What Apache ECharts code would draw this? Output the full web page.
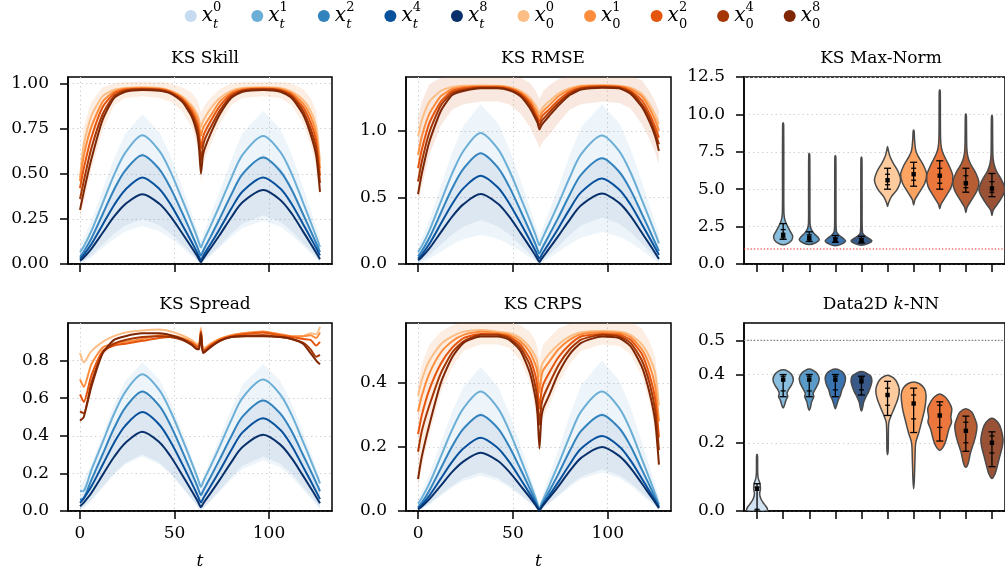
<!DOCTYPE html>
<html>
<head>
<meta charset="utf-8">
<script src="https://cdn.jsdelivr.net/npm/echarts@6/dist/echarts.min.js"></script>
<style>
  html, body { margin: 0; padding: 0; background: #fff; }
  #chart { width: 1005px; height: 573px; }
</style>
</head>
<body>
<div id="chart"></div>
<script>
// time steps sampled from the curves
const T = [0, 2, 6, 12, 18, 24, 33, 42, 48, 54, 59, 62, 63, 64, 65, 66, 69, 74, 80, 86, 97, 106, 112, 118, 122, 125, 127];

const NAMES = ['x_t^0', 'x_t^1', 'x_t^2', 'x_t^4', 'x_t^8', 'x_0^0', 'x_0^1', 'x_0^2', 'x_0^4', 'x_0^8'];
const COLORS = ['#c6dbef', '#6baed6', '#3182bd', '#08519c', '#08306b', '#fdbe85', '#fd8d3c', '#e6550d', '#a63603', '#7f2704'];

// ---- KS Skill
const skillXt1 = [.065,.097,.182,.338,.493,.617,.714, .627,.509,.359,.229,.148,.117,.092, .117,.141,.209,.327,.475,.605,.71, .621,.5,.342,.234,.151,.094];
const skillXt2 = [.04,.068,.141,.276,.412,.519,.603, .525,.419,.286,.169,.096,.068,.046, .068,.09,.149,.253,.383,.498,.59, .514,.412,.277,.185,.115,.066];
const skillXt4 = [.028,.051,.109,.218,.326,.412,.48, .416,.329,.219,.123,.063,.04,.022, .04,.059,.109,.196,.306,.402,.48, .418,.333,.222,.146,.088,.048];
const skillXt8 = [.018,.036,.084,.173,.262,.332,.387, .334,.263,.172,.093,.044,.025,.01, .026,.042,.086,.162,.258,.342,.41, .355,.28,.181,.114,.062,.027];
const skillX00 = [.48,.66,.82,.93,.965,.975,.98, .975,.96,.93,.88,.83,.80,.76, .79,.81,.86,.92,.96,.975,.98, .975,.955,.91,.85,.76,.57];
const skillX01 = [.46,.60,.76,.90,.955,.972,.976, .972,.957,.922,.865,.81,.77,.71, .75,.77,.82,.90,.95,.97,.976, .97,.947,.89,.82,.72,.53];
const skillX02 = [.42,.53,.70,.87,.945,.967,.972, .968,.953,.915,.85,.78,.73,.64, .70,.73,.79,.875,.94,.965,.972, .965,.938,.87,.785,.68,.49];
const skillX04 = [.36,.46,.64,.83,.932,.96,.968, .964,.948,.908,.835,.755,.69,.57, .65,.69,.755,.85,.93,.96,.968, .96,.93,.85,.75,.64,.45];
const skillX08 = [.30,.40,.58,.80,.92,.955,.965, .96,.945,.90,.82,.72,.64,.50, .60,.64,.72,.83,.92,.955,.965, .955,.92,.83,.72,.60,.40];
const skillBlueOutHi = [.11,.146,.24,.412,.585,.722,.83, .732,.599,.431,.284,.193,.158,.13, .159,.188,.267,.404,.576,.728,.85, .748,.609,.427,.303,.208,.142];
const skillBlueOutLo = [0,.011,.038,.088,.139,.179,.21, .181,.141,.09,.046,.019,.008,0, .01,.019,.046,.091,.149,.199,.24, .206,.161,.101,.06,.029,.007];
const skillBlueInHi = [.05,.079,.153,.289,.426,.535,.62, .542,.435,.301,.183,.11,.082,.06, .082,.104,.165,.269,.401,.517,.61, .533,.429,.291,.198,.126,.077];
const skillBlueInLo = [.005,.017,.049,.108,.167,.213,.25, .215,.168,.108,.055,.023,.01,0, .011,.022,.051,.103,.167,.224,.27, .233,.183,.116,.071,.037,.013];
const skillOrHi = [.56,.76,.90,.98,1.0,1.01,1.01, 1.01,1.0,.98,.95,.91,.88,.84, .86,.88,.92,.97,1.0,1.01,1.01, 1.01,1.0,.97,.92,.85,.66];
const skillOrLo = [.26,.34,.52,.74,.88,.92,.93, .92,.9,.85,.76,.65,.58,.45, .54,.58,.66,.78,.88,.92,.93, .92,.88,.78,.66,.54,.36];

// ---- KS RMSE
const rmseXt1 = [.09,.135,.251,.466,.681,.851,.985, .867,.706,.503,.326,.216,.174,.14, .173,.206,.297,.454,.652,.825,.965, .848,.689,.481,.339,.23,.155];
const rmseXt2 = [.058,.097,.197,.383,.569,.716,.832, .726,.583,.402,.244,.146,.108,.078, .107,.135,.214,.35,.522,.672,.794, .693,.557,.377,.255,.161,.097];
const rmseXt4 = [.04,.071,.152,.302,.451,.57,.663, .576,.457,.308,.177,.096,.065,.04, .064,.088,.155,.269,.414,.54,.643, .56,.447,.299,.198,.121,.068];
const rmseXt8 = [.028,.053,.117,.237,.356,.45,.525, .454,.357,.234,.127,.061,.035,.015, .036,.056,.113,.211,.334,.442,.53, .459,.362,.235,.149,.083,.037];
const rmseX00 = [.96,1.08,1.22,1.3,1.33,1.34,1.342, 1.34,1.33,1.30,1.25,1.19,1.16,1.13, 1.16,1.18,1.22,1.28,1.32,1.34,1.345, 1.34,1.325,1.28,1.20,1.12,1.05];
const rmseX01 = [.82,.96,1.13,1.26,1.315,1.33,1.335, 1.335,1.325,1.29,1.23,1.16,1.13,1.10, 1.13,1.15,1.19,1.26,1.31,1.335,1.34, 1.335,1.315,1.26,1.17,1.08,1.0];
const rmseX02 = [.72,.86,1.06,1.22,1.30,1.32,1.33, 1.33,1.318,1.28,1.21,1.13,1.10,1.07, 1.10,1.12,1.16,1.23,1.295,1.325,1.335, 1.33,1.30,1.23,1.13,1.03,.95];
const rmseX04 = [.62,.77,.99,1.19,1.285,1.31,1.325, 1.325,1.31,1.27,1.19,1.11,1.08,1.04, 1.07,1.09,1.135,1.21,1.28,1.318,1.33, 1.325,1.29,1.20,1.10,.99,.90];
const rmseX08 = [.525,.68,.92,1.15,1.27,1.30,1.32, 1.32,1.305,1.26,1.17,1.09,1.06,1.01, 1.04,1.06,1.11,1.19,1.27,1.31,1.325, 1.32,1.28,1.18,1.07,.96,.85];
const rmseBlueOutHi = [.14,.193,.331,.585,.84,1.041,1.2, 1.06,.87,.63,.42,.29,.24,.2, .24,.28,.39,.58,.82,1.03,1.2, 1.059,.867,.614,.443,.311,.22];
const rmseBlueOutLo = [0,.011,.04,.092,.145,.187,.22, .189,.147,.095,.048,.02,.009,0, .01,.019,.046,.091,.149,.199,.24, .206,.161,.101,.06,.029,.007];
const rmseBlueInHi = [.06,.099,.2,.388,.575,.723,.84, .734,.589,.407,.247,.148,.11,.08, .109,.138,.217,.354,.526,.678,.8, .699,.562,.382,.26,.166,.102];
const rmseBlueInLo = [.01,.026,.068,.144,.221,.282,.33, .284,.221,.142,.073,.03,.013,0, .014,.028,.067,.133,.217,.291,.35, .302,.238,.153,.095,.051,.02];
const rmseOrHi = [1.1,1.22,1.35,1.4,1.41,1.41,1.41, 1.41,1.41,1.4,1.36,1.3,1.27,1.24, 1.27,1.3,1.34,1.39,1.41,1.41,1.41, 1.41,1.41,1.38,1.3,1.22,1.15];
const rmseOrLo = [.45,.58,.82,1.04,1.16,1.2,1.22, 1.22,1.2,1.13,1.03,.94,.91,.87, .9,.92,.97,1.06,1.16,1.2,1.22, 1.21,1.17,1.05,.94,.84,.75];

// ---- KS Spread
const spreadXt1 = [.105,.108,.217,.366,.516,.634,.727, .643,.529,.386,.26,.182,.152,.128, .151,.174,.236,.345,.482,.602,.699, .619,.511,.369,.272,.198,.147];
const spreadXt2 = [.06,.068,.164,.302,.44,.55,.636, .559,.454,.321,.205,.134,.106,.084, .104,.124,.18,.276,.396,.502,.588, .518,.424,.299,.215,.15,.105];
const spreadXt4 = [.043,.067,.13,.246,.362,.454,.526, .459,.367,.252,.151,.088,.064,.045, .063,.081,.13,.216,.323,.418,.494, .432,.347,.236,.161,.103,.063];
const spreadXt8 = [.025,.045,.096,.192,.287,.362,.422, .366,.29,.193,.109,.057,.037,.021, .036,.052,.094,.167,.259,.34,.405, .353,.281,.188,.124,.075,.041];
const spreadX00 = [.84,.79,.85,.90,.93,.95,.96, .965,.955,.935,.91,.89,.89,.975, .87,.87,.89,.915,.93,.935,.94, .93,.925,.93,.945,.94,.98];
const spreadX01 = [.70,.66,.78,.87,.89,.90,.915, .935,.935,.92,.90,.88,.88,.96, .85,.86,.885,.915,.935,.945,.955, .94,.93,.93,.935,.92,.95];
const spreadX02 = [.62,.58,.72,.85,.88,.89,.905, .92,.925,.915,.895,.875,.875,.955, .85,.855,.88,.91,.93,.94,.95, .935,.925,.915,.91,.88,.90];
const spreadX04 = [.53,.52,.68,.84,.89,.91,.925, .93,.925,.91,.885,.865,.865,.95, .845,.85,.875,.905,.925,.93,.935, .925,.915,.895,.86,.82,.83];
const spreadX08 = [.48,.50,.66,.84,.91,.93,.945, .945,.935,.915,.885,.86,.86,.94, .84,.845,.87,.905,.925,.93,.93, .925,.915,.89,.84,.80,.78];
const spreadBlueOutHi = [.13,.163,.249,.407,.566,.691,.79, .7,.579,.425,.291,.208,.176,.15, .175,.2,.27,.389,.541,.673,.78, .693,.575,.42,.315,.234,.179];
const spreadBlueOutLo = [0,.015,.052,.122,.191,.247,.29, .249,.194,.125,.064,.026,.012,0, .011,.022,.051,.103,.167,.224,.27, .232,.181,.113,.068,.032,.008];
const spreadBlueInHi = [.07,.099,.173,.309,.446,.555,.64, .563,.459,.327,.211,.14,.112,.09, .11,.131,.187,.284,.406,.513,.6, .53,.435,.31,.225,.16,.115];
const spreadBlueInLo = [.01,.025,.062,.132,.201,.257,.3, .258,.201,.129,.066,.027,.012,0, .012,.023,.055,.11,.18,.241,.29, .251,.198,.128,.08,.044,.018];

// ---- KS CRPS
const crpsXt1 = [.023,.041,.086,.17,.254,.321,.373, .322,.252,.164,.088,.04,.022,.007, .022,.036,.077,.146,.234,.311,.373, .322,.253,.162,.101,.054,.021];
const crpsXt2 = [.012,.026,.064,.133,.202,.257,.30, .259,.202,.131,.069,.031,.016,.004, .016,.028,.06,.116,.188,.25,.30, .259,.203,.129,.08,.041,.015];
const crpsXt4 = [.008,.019,.048,.101,.154,.196,.229, .197,.154,.1,.053,.023,.012,.003, .012,.021,.047,.091,.146,.195,.234, .202,.158,.101,.062,.032,.011];
const crpsXt8 = [.005,.014,.037,.079,.122,.155,.182, .157,.123,.079,.042,.018,.009,.002, .01,.018,.04,.077,.125,.166,.20, .172,.135,.086,.052,.027,.009];
const crpsX00 = [.36,.41,.47,.52,.545,.56,.565, .56,.555,.54,.51,.48,.46,.42, .45,.465,.49,.52,.545,.558,.562, .56,.55,.52,.48,.43,.33];
const crpsX01 = [.31,.36,.43,.495,.53,.55,.56, .556,.55,.53,.495,.455,.43,.37, .42,.44,.465,.505,.535,.552,.558, .556,.543,.505,.455,.39,.28];
const crpsX02 = [.24,.30,.38,.46,.51,.54,.553, .552,.545,.52,.475,.42,.38,.32, .37,.395,.43,.48,.52,.545,.553, .55,.535,.49,.425,.35,.23];
const crpsX04 = [.185,.25,.33,.43,.495,.53,.55, .55,.54,.51,.455,.385,.34,.27, .33,.355,.395,.455,.505,.535,.55, .545,.525,.47,.40,.315,.19];
const crpsX08 = [.10,.17,.27,.40,.48,.525,.545, .545,.535,.50,.43,.35,.30,.195, .29,.32,.36,.43,.49,.525,.545, .54,.515,.45,.37,.28,.145];
const crpsBlueOutHi = [.04,.061,.114,.212,.311,.389,.45, .39,.308,.205,.115,.059,.037,.02, .038,.056,.106,.191,.299,.394,.47, .408,.325,.215,.14,.083,.043];
const crpsBlueOutLo = [0,.006,.02,.046,.073,.094,.11, .095,.074,.047,.024,.01,.004,0, .005,.01,.023,.046,.074,.1,.12, .103,.08,.05,.03,.014,.004];
const crpsBlueInHi = [.02,.035,.072,.142,.211,.267,.31, .268,.21,.138,.074,.035,.02,.008, .02,.032,.065,.123,.195,.259,.31, .268,.211,.136,.085,.046,.019];
const crpsBlueInLo = [.002,.008,.023,.052,.08,.102,.12, .103,.08,.052,.026,.011,.005,0, .005,.01,.025,.049,.081,.108,.13, .112,.088,.056,.034,.017,.006];
const crpsOrHi = [.40,.46,.52,.56,.58,.59,.59, .59,.59,.58,.56,.53,.51,.47, .5,.52,.54,.57,.585,.59,.59, .59,.59,.57,.53,.48,.38];
const crpsOrLo = [.07,.14,.24,.37,.45,.5,.52, .52,.51,.47,.4,.31,.27,.17, .26,.29,.33,.4,.46,.5,.52, .515,.49,.42,.34,.25,.12];

// ---- KS Max-Norm violins: [value, relative density]
const maxNormProfiles = [
  null,
  [[1.28,0],[1.4,0.4],[1.6,0.66],[1.85,0.73],[2.1,0.6],[2.5,0.35],[2.9,0.15],[3.4,0.06],[6,0.05],[9.3,0.04],[9.45,0]],
  [[1.3,0],[1.42,0.5],[1.6,0.76],[1.8,0.65],[2.05,0.35],[2.35,0.14],[2.7,0.06],[5,0.05],[7.25,0.04],[7.4,0]],
  [[1.22,0],[1.35,0.5],[1.55,0.78],[1.75,0.55],[1.95,0.25],[2.2,0.08],[4,0.05],[7.1,0.04],[7.25,0]],
  [[1.25,0],[1.38,0.55],[1.55,0.8],[1.72,0.55],[1.9,0.25],[2.1,0.08],[4,0.05],[7.0,0.04],[7.15,0]],
  [[3.85,0],[4.1,0.08],[4.5,0.3],[5.0,0.75],[5.6,1.0],[6.2,0.8],[6.8,0.4],[7.2,0.18],[7.6,0.06],[7.85,0]],
  [[3.95,0],[4.3,0.1],[4.8,0.45],[5.4,0.85],[6.0,1.0],[6.6,0.75],[7.2,0.35],[7.6,0.16],[8.3,0.07],[8.85,0.04],[8.95,0]],
  [[3.7,0],[4.0,0.1],[4.5,0.45],[5.2,0.9],[5.9,1.0],[6.6,0.7],[7.3,0.3],[7.8,0.12],[8.5,0.06],[11.5,0.04],[11.65,0]],
  [[3.45,0],[3.8,0.1],[4.3,0.45],[4.9,0.85],[5.45,1.0],[6.1,0.75],[6.7,0.35],[7.2,0.15],[7.8,0.07],[9.9,0.04],[10.05,0]],
  [[3.25,0],[3.6,0.1],[4.1,0.5],[4.6,0.85],[5.0,1.0],[5.6,0.75],[6.2,0.35],[6.7,0.15],[7.3,0.07],[9.8,0.04],[9.95,0]]
];
// [low, q1, median, q3, high]
const maxNormStats = [
  null,
  [1.65, 1.75, 1.95, 2.3, 2.7],
  [1.5, 1.6, 1.75, 1.95, 2.15],
  [1.45, 1.5, 1.6, 1.75, 1.9],
  [1.4, 1.5, 1.55, 1.7, 1.85],
  [5.0, 5.3, 5.6, 6.0, 6.4],
  [5.2, 5.6, 6.0, 6.4, 6.8],
  [5.0, 5.4, 5.9, 6.4, 6.9],
  [4.8, 5.1, 5.4, 5.9, 6.4],
  [4.5, 4.8, 5.05, 5.5, 6.05]
];
const maxNormRef = 1.0;

// ---- Data2D k-NN violins
const knnProfiles = [
  [[0,0.78],[0.01,0.75],[0.02,0.55],[0.035,0.3],[0.05,0.2],[0.065,0.26],[0.08,0.22],[0.095,0.1],[0.11,0.05],[0.16,0.04],[0.166,0]],
  [[0.302,0],[0.31,0.1],[0.325,0.22],[0.335,0.35],[0.345,0.3],[0.355,0.4],[0.37,0.65],[0.385,0.78],[0.4,0.65],[0.41,0.35],[0.414,0]],
  [[0.295,0],[0.305,0.1],[0.32,0.18],[0.335,0.35],[0.345,0.3],[0.36,0.5],[0.375,0.7],[0.39,0.76],[0.403,0.6],[0.412,0.3],[0.416,0]],
  [[0.3,0],[0.31,0.1],[0.325,0.22],[0.34,0.4],[0.355,0.5],[0.37,0.68],[0.388,0.78],[0.403,0.65],[0.412,0.35],[0.416,0]],
  [[0.293,0],[0.305,0.1],[0.32,0.18],[0.335,0.35],[0.35,0.55],[0.365,0.7],[0.38,0.8],[0.395,0.72],[0.405,0.35],[0.409,0]],
  [[0.165,0],[0.18,0.05],[0.22,0.06],[0.26,0.1],[0.28,0.28],[0.3,0.5],[0.33,0.8],[0.355,0.9],[0.375,0.75],[0.39,0.45],[0.398,0]],
  [[0.065,0],[0.09,0.05],[0.15,0.1],[0.2,0.16],[0.23,0.4],[0.26,0.6],[0.3,0.85],[0.34,0.95],[0.36,0.8],[0.373,0.45],[0.378,0]],
  [[0.178,0],[0.19,0.3],[0.21,0.5],[0.24,0.7],[0.26,0.9],[0.275,0.85],[0.3,0.92],[0.32,0.7],[0.335,0.4],[0.343,0]],
  [[0.128,0],[0.14,0.18],[0.17,0.35],[0.2,0.6],[0.22,0.75],[0.25,0.85],[0.27,0.7],[0.29,0.45],[0.3,0]],
  [[0.095,0],[0.11,0.25],[0.13,0.4],[0.16,0.6],[0.19,0.8],[0.21,0.85],[0.24,0.7],[0.26,0.45],[0.272,0]]
];
const knnStats = [
  [0.0, 0.005, 0.065, 0.07, 0.08],
  [0.335, 0.352, 0.385, 0.395, 0.40],
  [0.335, 0.352, 0.385, 0.395, 0.40],
  [0.335, 0.355, 0.385, 0.395, 0.40],
  [0.34, 0.355, 0.38, 0.39, 0.395],
  [0.28, 0.31, 0.34, 0.36, 0.38],
  [0.23, 0.27, 0.315, 0.34, 0.36],
  [0.205, 0.245, 0.28, 0.31, 0.32],
  [0.175, 0.2, 0.235, 0.26, 0.278],
  [0.13, 0.17, 0.2, 0.22, 0.232]
];
const knnRef = 0.5;

// tick values
const tTicks = [0, 50, 100];
const skillTicks = [0, 0.25, 0.5, 0.75, 1.0];
const rmseTicks = [0, 0.5, 1.0];
const maxNormTicks = [0, 2.5, 5, 7.5, 10, 12.5];
const spreadTicks = [0, 0.2, 0.4, 0.6, 0.8];
const crpsTicks = [0, 0.2, 0.4];
const knnTicks = [0, 0.2, 0.4, 0.5];

const FONT = 'DejaVu Serif';

var chart = echarts.init(document.getElementById('chart'));

const grids = [
  { left: 68, top: 77, width: 264, height: 187 },
  { left: 406, top: 77, width: 265, height: 187 },
  { left: 744, top: 77, width: 264, height: 187 },
  { left: 68, top: 323, width: 264, height: 188 },
  { left: 406, top: 323, width: 265, height: 188 },
  { left: 744, top: 323, width: 264, height: 188 }
].map(g => Object.assign(g, { show: true, borderColor: '#000', borderWidth: 1.5, containLabel: false }));

const titles = ['KS Skill', 'KS RMSE', 'KS Max-Norm', 'KS Spread', 'KS CRPS', '{a|Data2D }{i|k}{a|-NN}'];

const baseLabel = { color: '#000', fontFamily: FONT, fontSize: 17 };
const splitStyle = { show: true, lineStyle: { color: '#d2d2d2', type: [1.5, 3], width: 1 } };
const axisLine = { show: true, onZero: false, lineStyle: { color: '#000', width: 1.5 } };
const tick = (vals) => ({ show: true, length: 8, customValues: vals, lineStyle: { color: '#000', width: 1.5 } });

const yDefs = [
  { max: 1.0365, ticks: skillTicks, d: 2 },
  { max: 1.405, ticks: rmseTicks, d: 1 },
  { max: 12.5, ticks: maxNormTicks, d: 1 },
  { max: 1.0, ticks: spreadTicks, d: 1 },
  { max: 0.587, ticks: crpsTicks, d: 1 },
  { max: 0.551, ticks: knnTicks, d: 1 }
];

const xAxes = [], yAxes = [];
for (let i = 0; i < 6; i++) {
  const violin = (i === 2 || i === 5);
  if (violin) {
    xAxes.push({
      gridIndex: i, type: 'category', data: NAMES, boundaryGap: true,
      axisLine: axisLine,
      axisTick: { show: true, interval: 0, alignWithLabel: true, length: 8, lineStyle: { color: '#000', width: 1.5 } },
      axisLabel: { show: false, interval: 0 }, splitLine: { show: false }
    });
  } else {
    xAxes.push({
      gridIndex: i, type: 'value', min: -6.35, max: 133.35,
      axisLine: axisLine, axisTick: tick(tTicks),
      axisLabel: Object.assign({ show: i >= 3, margin: 14, customValues: tTicks }, baseLabel),
      splitLine: splitStyle,
      name: i >= 3 ? 't' : '', nameLocation: 'middle', nameGap: 42,
      nameTextStyle: { fontFamily: FONT, fontStyle: 'italic', fontSize: 17, color: '#000' }
    });
  }
  const yd = yDefs[i];
  yAxes.push({
    gridIndex: i, type: 'value', min: 0, max: yd.max,
    axisLine: axisLine, axisTick: tick(yd.ticks),
    axisLabel: Object.assign({ margin: 19, customValues: yd.ticks, formatter: v => v.toFixed(yd.d) }, baseLabel),
    splitLine: splitStyle
  });
}

const series = [];

function bandSeries(ax, lo, hi, color) {
  return {
    type: 'custom', xAxisIndex: ax, yAxisIndex: ax, silent: true, clip: true, z: 1,
    data: T.map((t, i) => [t, lo[i], hi[i]]),
    renderItem: function (params, api) {
      if (params.dataIndex !== 0) return null;
      const pts = [];
      for (let i = 0; i < T.length; i++) pts.push(api.coord([T[i], hi[i]]));
      for (let i = T.length - 1; i >= 0; i--) pts.push(api.coord([T[i], lo[i]]));
      return { type: 'polygon', shape: { points: pts }, style: { fill: color } };
    }
  };
}

function lineSeries(ax, k, vals, smooth) {
  return {
    type: 'line', name: NAMES[k], xAxisIndex: ax, yAxisIndex: ax,
    data: T.map((t, i) => [t, vals[i]]),
    showSymbol: false, symbol: 'none', smooth: smooth, z: 3,
    lineStyle: { color: COLORS[k], width: 2 }, itemStyle: { color: COLORS[k] }
  };
}

const BLUE_OUT = 'rgba(107,174,214,0.12)', BLUE_IN = 'rgba(8,69,148,0.075)';
const linePanels = [
  { ax: 0, blue: [skillXt1, skillXt2, skillXt4, skillXt8], orange: [skillX00, skillX01, skillX02, skillX04, skillX08],
    bands: [[skillBlueOutLo, skillBlueOutHi, BLUE_OUT], [skillBlueInLo, skillBlueInHi, BLUE_IN], [skillOrLo, skillOrHi, 'rgba(240,120,50,0.13)']] },
  { ax: 1, blue: [rmseXt1, rmseXt2, rmseXt4, rmseXt8], orange: [rmseX00, rmseX01, rmseX02, rmseX04, rmseX08],
    bands: [[rmseBlueOutLo, rmseBlueOutHi, BLUE_OUT], [rmseBlueInLo, rmseBlueInHi, BLUE_IN], [rmseOrLo, rmseOrHi, 'rgba(215,120,70,0.17)']] },
  { ax: 3, blue: [spreadXt1, spreadXt2, spreadXt4, spreadXt8], orange: [spreadX00, spreadX01, spreadX02, spreadX04, spreadX08],
    bands: [[spreadBlueOutLo, spreadBlueOutHi, BLUE_OUT], [spreadBlueInLo, spreadBlueInHi, BLUE_IN]] },
  { ax: 4, blue: [crpsXt1, crpsXt2, crpsXt4, crpsXt8], orange: [crpsX00, crpsX01, crpsX02, crpsX04, crpsX08],
    bands: [[crpsBlueOutLo, crpsBlueOutHi, BLUE_OUT], [crpsBlueInLo, crpsBlueInHi, BLUE_IN], [crpsOrLo, crpsOrHi, 'rgba(240,120,50,0.13)']] }
];

linePanels.forEach(p => {
  p.bands.forEach(b => series.push(bandSeries(p.ax, b[0], b[1], b[2])));
  p.blue.forEach((v, j) => series.push(lineSeries(p.ax, j + 1, v, 0.3)));
  p.orange.forEach((v, j) => series.push(lineSeries(p.ax, j + 5, v, 0.2)));
});

function violinSeries(ax, cat, profile, stats) {
  return {
    type: 'custom', name: NAMES[cat], xAxisIndex: ax, yAxisIndex: ax, clip: true, z: 3,
    itemStyle: { color: COLORS[cat] },
    data: [[cat, stats[2]]],
    renderItem: function (params, api) {
      const cx = api.coord([cat, 0])[0];
      const hw = api.size([1, 0])[0] * 0.5;
      const y = v => api.coord([cat, v])[1];
      const pts = profile.map(p => [cx + p[1] * hw, y(p[0])]);
      for (let i = profile.length - 1; i >= 0; i--) {
        if (profile[i][1] > 0) pts.push([cx - profile[i][1] * hw, y(profile[i][0])]);
      }
      const blk = { stroke: '#000', lineWidth: 1.3 };
      const cap = (v, w) => ({ type: 'line', shape: { x1: cx - w, y1: y(v), x2: cx + w, y2: y(v) }, style: blk });
      return {
        type: 'group', children: [
          { type: 'polygon', shape: { points: pts, smooth: 0.3 },
            style: { fill: echarts.color.modifyAlpha(COLORS[cat], 0.8), stroke: '#4a4a4a', lineWidth: 1.5 } },
          { type: 'line', shape: { x1: cx, y1: y(stats[0]), x2: cx, y2: y(stats[4]) }, style: blk },
          cap(stats[0], 3.5), cap(stats[4], 3.5), cap(stats[1], 2.5), cap(stats[3], 2.5),
          { type: 'rect', shape: { x: cx - 2.2, y: y(stats[2]) - 2.2, width: 4.4, height: 4.4 }, style: { fill: '#000' } }
        ]
      };
    }
  };
}

// horizontal reference line across a whole grid, drawn through the y axis scale
function refLineSeries(ax, value, color) {
  return {
    type: 'custom', xAxisIndex: ax, yAxisIndex: ax, silent: true, clip: true, z: 2,
    data: [[0, value]],
    renderItem: function (params, api) {
      const yy = api.coord([0, value])[1];
      const cs = params.coordSys;
      return {
        type: 'line', shape: { x1: cs.x, y1: yy, x2: cs.x + cs.width, y2: yy },
        style: { stroke: color, lineWidth: 1.1, lineDash: [1.3, 2] }
      };
    }
  };
}

maxNormProfiles.forEach((p, k) => {
  if (p) series.push(violinSeries(2, k, p, maxNormStats[k]));
});
knnProfiles.forEach((p, k) => {
  series.push(violinSeries(5, k, p, knnStats[k]));
});
series.push(refLineSeries(2, maxNormRef, '#e8211c'));
series.push(refLineSeries(5, knnRef, '#7a7a7a'));

const titleCenters = [200, 538, 876, 200, 538, 876];
const title = titles.map((t, i) => ({
  text: t, left: titleCenters[i], top: i < 3 ? 45 : 291, textAlign: 'center',
  textStyle: {
    fontFamily: FONT, fontSize: 17, fontWeight: 'normal', color: '#000',
    rich: { a: { fontFamily: FONT, fontSize: 17, color: '#000' }, i: { fontFamily: FONT, fontSize: 17, fontStyle: 'italic', color: '#000' } }
  }
}));

chart.setOption({
  animation: false,
  backgroundColor: '#fff',
  textStyle: { fontFamily: FONT },
  title: title,
  legend: {
    top: -4, left: 'center', icon: 'circle', itemWidth: 12, itemHeight: 12, itemGap: 30,
    data: NAMES.map((n, i) => ({ name: n, itemStyle: { color: COLORS[i] } })),
    formatter: function (name) {
      const sub = name.charAt(2), sup = name.charAt(4);
      return '{x|x}{' + (sub === 't' ? 'b' : 'c') + '|' + sub + '}{p|' + sup + '}';
    },
    textStyle: {
      rich: {
        x: { fontFamily: FONT, fontStyle: 'italic', fontSize: 20, lineHeight: 30, verticalAlign: 'middle', color: '#000' },
        b: { fontFamily: FONT, fontStyle: 'italic', fontSize: 13, lineHeight: 13, verticalAlign: 'bottom', width: 0, color: '#000' },
        c: { fontFamily: FONT, fontSize: 13, lineHeight: 13, verticalAlign: 'bottom', width: 0, color: '#000' },
        p: { fontFamily: FONT, fontSize: 13, lineHeight: 13, verticalAlign: 'top', color: '#000' }
      }
    }
  },
  grid: grids,
  xAxis: xAxes,
  yAxis: yAxes,
  series: series
});
</script>
</body>
</html>
